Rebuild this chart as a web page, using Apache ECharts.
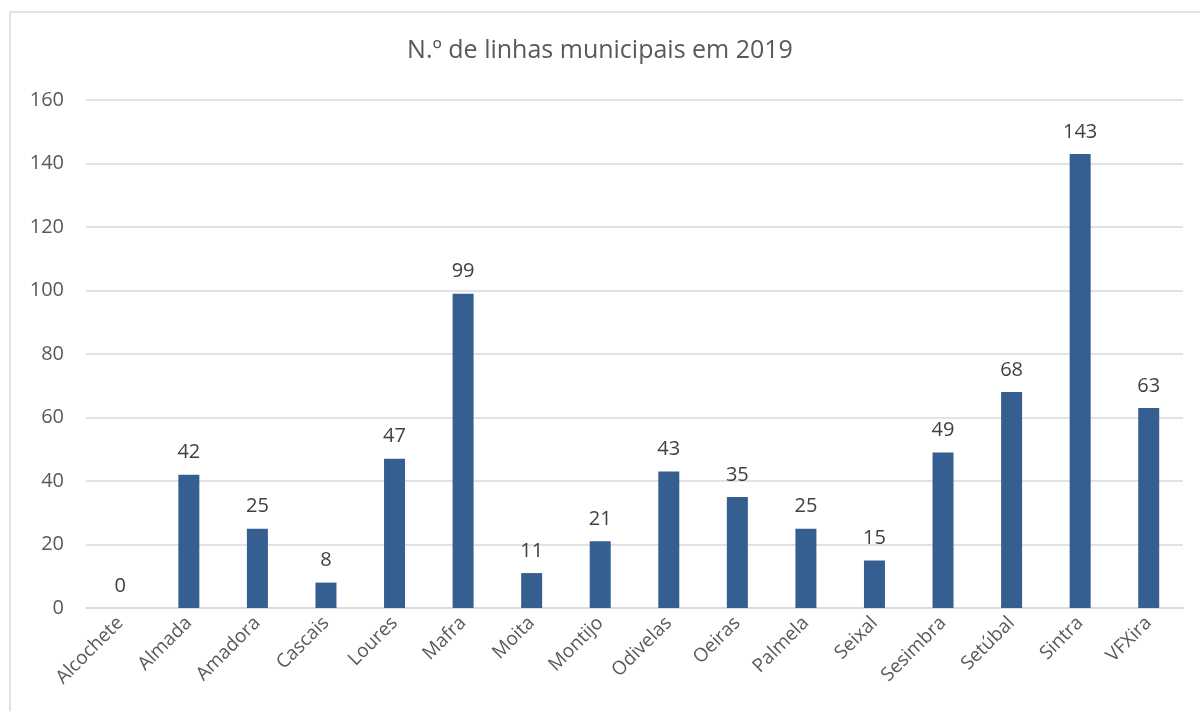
<!DOCTYPE html>
<html>
<head>
<meta charset="utf-8">
<script src="https://cdn.jsdelivr.net/npm/echarts@6/dist/echarts.min.js"></script>
<style>
  html, body { margin: 0; padding: 0; background: #fff; }
  #chart { width: 1200px; height: 711px; }
</style>
</head>
<body>
<div id="chart"></div>
<script>
// dados do gráfico
const municipios = ['Alcochete', 'Almada', 'Amadora', 'Cascais', 'Loures', 'Mafra', 'Moita', 'Montijo',
  'Odivelas', 'Oeiras', 'Palmela', 'Seixal', 'Sesimbra', 'Setúbal', 'Sintra', 'VFXira'];
const linhas = [0, 42, 25, 8, 47, 99, 11, 21, 43, 35, 25, 15, 49, 68, 143, 63];
const titulo = 'N.º de linhas municipais em 2019';

const chart = echarts.init(document.getElementById('chart'));
const fonte = '"Open Sans", "Liberation Sans", sans-serif';

chart.setOption({
  animation: false,
  textStyle: { fontFamily: fonte },
  title: {
    text: titulo,
    left: 'center',
    top: 33,
    textStyle: { fontSize: 25, fontWeight: 'normal', color: '#595959', fontFamily: fonte }
  },
  graphic: [{
    type: 'rect',
    shape: { x: 10, y: 12, width: 1200, height: 720 },
    style: { fill: 'none', stroke: '#d9d9d9', lineWidth: 1.5 },
    silent: true
  }],
  grid: { left: 86, right: 17, top: 100, bottom: 103 },
  xAxis: {
    type: 'category',
    data: municipios,
    axisLine: { lineStyle: { color: '#d9d9d9', width: 1.5 } },
    axisTick: { show: false },
    axisLabel: { rotate: 45, color: '#595959', fontSize: 19, margin: 12, interval: 0 }
  },
  yAxis: {
    type: 'value',
    min: 0,
    max: 160,
    interval: 20,
    axisLine: { show: false },
    axisTick: { show: false },
    axisLabel: { color: '#595959', fontSize: 20, margin: 22 },
    splitLine: { lineStyle: { color: '#d9d9d9', width: 1.5 } }
  },
  series: [{
    type: 'bar',
    data: linhas,
    barWidth: 21,
    itemStyle: { color: '#365F91' },
    label: {
      show: true,
      position: 'top',
      distance: 12,
      color: '#404040',
      fontSize: 20
    }
  }]
});
</script>
</body>
</html>
